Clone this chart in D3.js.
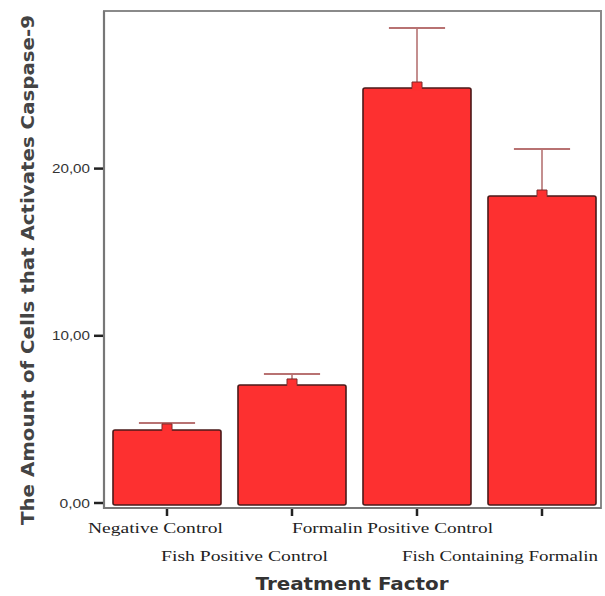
<!DOCTYPE html>
<html><head><meta charset="utf-8">
<script src="https://cdn.jsdelivr.net/npm/d3@7"></script>
<style>body{margin:0;background:#fff}svg{display:block}</style>
</head><body>
<svg id="c" width="605" height="596"></svg>
<script>
const categories = ["Negative Control","Fish Positive Control","Formalin Positive Control","Fish Containing Formalin"];
const means = [4.37, 7.06, 24.82, 18.36];
const upperErr = [4.78, 7.71, 28.41, 21.17];
const yTicks = [0, 10, 20];
const yTickLabels = ["0,00","10,00","20,00"];
const yTitle = "The Amount of Cells that Activates Caspase-9";
const xTitle = "Treatment Factor";

// label layout (styling only)
const labelRow = [0,1,0,1];
const labelDx = [-79,-131,-125,-140];
const labelLen = [135,167,201,196];

const svg = d3.select("#c");
const L=104, R=601, T=11, B=508;
const x = d3.scaleBand().domain(categories).range([L,605]).paddingInner(0.136).paddingOuter(0.072);
const y = d3.scaleLinear().domain([0,(503-11)/16.72]).range([503,11]);

// frame
svg.append("rect").attr("x",L).attr("y",T).attr("width",R-L).attr("height",B-T)
  .attr("fill","#fff").attr("stroke","#8a8a8a").attr("stroke-width",2);
svg.append("path").attr("d",`M${L},${T}V${B}H${R}`).attr("fill","none").attr("stroke","#777").attr("stroke-width",2.2);

// bars
const g = svg.append("g");
categories.forEach((c,i)=>{
  const bx = x(c), bw = x.bandwidth(), cx = bx+bw/2;
  g.append("line").attr("x1",cx).attr("x2",cx).attr("y1",y(means[i])).attr("y2",y(upperErr[i]))
    .attr("stroke","#b06a6a").attr("stroke-width",1.5);
  g.append("line").attr("x1",cx-bw*0.26).attr("x2",cx+bw*0.26).attr("y1",y(upperErr[i])).attr("y2",y(upperErr[i]))
    .attr("stroke","#b87272").attr("stroke-width",2);
  g.append("rect").attr("x",bx).attr("y",y(means[i])).attr("width",bw).attr("height",y(0)-y(means[i])+2)
    .attr("rx",2).attr("fill","#fd3030").attr("stroke","#4a1a1a").attr("stroke-width",1.6);
  g.append("path").attr("d",`M${cx-5},${y(means[i])+1}V${y(means[i])-6}H${cx+5}V${y(means[i])+1}`)
    .attr("fill","#fd3030").attr("stroke","#7a2a2a").attr("stroke-width",1);
  g.append("rect").attr("x",cx-4.5).attr("y",y(means[i])-1).attr("width",9).attr("height",3).attr("fill","#fd3030");
});

// y axis ticks
yTicks.forEach((t,i)=>{
  svg.append("line").attr("x1",94).attr("x2",103).attr("y1",y(t)).attr("y2",y(t)).attr("stroke","#222").attr("stroke-width",2.5);
  svg.append("text").attr("x",90).attr("y",y(t)+4.5).attr("text-anchor","end")
    .attr("font-family","Liberation Sans, Arial, sans-serif").attr("font-size",13).attr("fill","#333")
    .attr("textLength",yTickLabels[i].length*7.6).attr("lengthAdjust","spacingAndGlyphs").text(yTickLabels[i]);
});
// x ticks
categories.forEach((c,i)=>{
  const cx = x(c)+x.bandwidth()/2;
  svg.append("line").attr("x1",cx).attr("x2",cx).attr("y1",B+1).attr("y2",B+8).attr("stroke","#222").attr("stroke-width",2.5);
  svg.append("text").attr("x",cx+labelDx[i]).attr("y",labelRow[i]?561:533)
    .attr("font-family","Liberation Serif, Times New Roman, serif").attr("font-size",15).attr("fill","#222")
    .attr("textLength",labelLen[i]).attr("lengthAdjust","spacingAndGlyphs").text(c);
});

svg.append("text").attr("x",352).attr("y",590).attr("text-anchor","middle")
  .attr("font-family","DejaVu Sans, Verdana, sans-serif").attr("font-weight","bold").attr("font-size",17)
  .attr("fill","#333").attr("textLength",193).attr("lengthAdjust","spacingAndGlyphs").text(xTitle);

svg.append("text").attr("transform","translate(34,270) rotate(-90)").attr("text-anchor","middle")
  .attr("font-family","DejaVu Sans, Verdana, sans-serif").attr("font-weight","bold").attr("font-size",17)
  .attr("fill","#444").attr("textLength",510).attr("lengthAdjust","spacingAndGlyphs").text(yTitle);
</script>
</body></html>
